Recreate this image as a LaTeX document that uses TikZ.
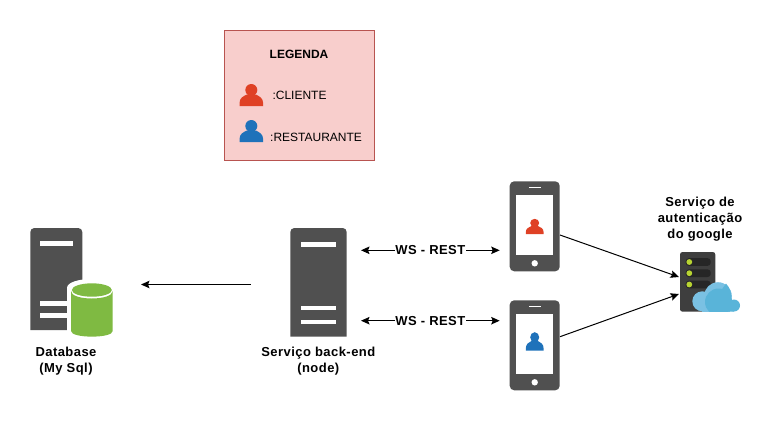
\documentclass[tikz,border=0pt]{standalone}
\usepackage{fontspec}
\setmainfont{Liberation Sans}
\usetikzlibrary{arrows.meta}
\definecolor{srv}{HTML}{505050}
\definecolor{redp}{HTML}{DF4125}
\definecolor{bluep}{HTML}{1F72BA}
\definecolor{green1}{HTML}{7FBA42}
\definecolor{lgfill}{HTML}{F8CECC}
\definecolor{lgline}{HTML}{B85450}
\definecolor{authbody}{HTML}{3E3E3E}
\definecolor{authslot}{HTML}{262626}
\definecolor{authdot}{HTML}{B8D432}
\definecolor{cla}{HTML}{7AC1E3}
\definecolor{clb}{HTML}{59B4D9}
\newcommand{\boldlbl}{\fontsize{13}{16}\selectfont\bfseries\addfontfeature{LetterSpace=3.5}}
\tikzset{
  x=1pt,y=-1pt,
  lbl/.style={font=\boldlbl,align=center,inner sep=0pt,text=black},
  wire/.style={draw=black,line width=1pt,-{Stealth[length=8.5pt,width=7.5pt,inset=1.5pt]}},
  wiretwo/.style={draw=black,line width=1pt,{Stealth[length=8.5pt,width=7.5pt,inset=1.5pt]}-{Stealth[length=8.5pt,width=7.5pt,inset=1.5pt]}},
  bar/.style={fill=white,draw=none},
  hit/.style={inner sep=0pt,draw=none},
  legtxt/.style={font=\fontsize{12}{14}\selectfont,inner sep=0pt,text=black},
  person/.pic={
    \fill[pic actions] (0,-16) circle[radius=6pt];
    \fill[pic actions] (-11.8,0) -- (-11.8,-3) .. controls (-11.8,-8) and (-8,-9.8) .. (-4.5,-11.5)
      -- (4.5,-11.5) .. controls (8,-9.8) and (11.8,-8) .. (11.8,-3) -- (11.8,0) -- cycle;
  },
  phoneicon/.pic={
    \fill[srv,rounded corners=4.5pt] (-25,-45) rectangle (25,45);
    \fill[white] (-18.4,-31) rectangle (18.6,29);
    \fill[white] (-6,-39.6) rectangle (6.4,-38.6);
    \fill[white] (0,37) circle[radius=3.2pt];
  }
}
\begin{document}
\begin{tikzpicture}
\useasboundingbox (0,0) rectangle (773,421);
% legend
\node[draw=lgline,fill=lgfill,line width=0.9pt,minimum width=150pt,minimum height=130pt,inner sep=0pt] (legend) at (299.5,95) {};
\node[font=\fontsize{12}{14}\selectfont\bfseries,inner sep=0pt] (legtitle) at (299,54) {LEGENDA};
\pic[fill=redp] at (251.3,106) {person};
\pic[fill=bluep] at (251.3,142) {person};
\node[legtxt,anchor=west] (legc) at (272.3,95.5) {:CLIENTE};
\node[legtxt,anchor=west] (legr) at (270,137.5) {:RESTAURANTE};
% database server
\fill[srv] (30.3,330) -- (30.3,232) arc[start angle=180,end angle=90,radius=4pt] -- (78.3,228) arc[start angle=90,end angle=0,radius=4pt] -- (82.3,330) -- cycle;
\fill[bar] (40.3,241) rectangle (72.7,245.7);
\fill[bar] (40.3,300.7) rectangle (72.7,305.5);
\fill[bar] (40.3,313) rectangle (72.7,318);
% cylinder
\fill[white] (67,288) -- (67,332) .. controls (67,338) and (117,338) .. (117,332) -- (117,288) .. controls (117,276) and (67,276) .. (67,288) -- cycle;
\fill[green1] (71,291) -- (71,331) .. controls (71,338.5) and (112.7,338.5) .. (112.7,331) -- (112.7,291) .. controls (112.7,301) and (71,301) .. (71,291) -- cycle;
\fill[green1] (91.85,290) ellipse[x radius=20pt,y radius=6.7pt];
\node[hit,minimum width=83pt,minimum height=109pt] (db) at (71.5,282.5) {};
\node[lbl] (dblabel) at (66,361.5) {Database\\(My Sql)};
% backend server
\fill[srv] (290.3,336.7) -- (290.3,232) arc[start angle=180,end angle=90,radius=4pt] -- (342.7,228) arc[start angle=90,end angle=0,radius=4pt] -- (346.7,336.7) -- cycle;
\fill[bar] (301.3,242) rectangle (336,246.7);
\fill[bar] (301.3,305.7) rectangle (336,310.3);
\fill[bar] (301.3,319.7) rectangle (336,324.3);
\node[hit,minimum width=56.4pt,minimum height=108.7pt] (back) at (318.5,282.35) {};
\node[lbl] (backlabel) at (318.3,361.5) {Serviço back-end\\(node)};
% phones
\pic at (534.7,226.3) {phoneicon};
\pic at (534.7,345.3) {phoneicon};
\pic[fill=redp,xscale=0.75,yscale=0.69] at (534.7,234) {person};
\pic[fill=bluep,xscale=0.75,yscale=0.84] at (534.7,350.7) {person};
\node[hit,minimum width=50pt,minimum height=90pt] (phoneA) at (534.7,226.3) {};
\node[hit,minimum width=50pt,minimum height=90pt] (phoneB) at (534.7,345.3) {};
% auth
\fill[authbody,rounded corners=2.5pt] (680,252) rectangle (715.3,311.7);
\foreach \yy in {262,273.2,284.5}{
  \fill[authslot,rounded corners=3pt] (685.7,\yy-3.8) rectangle (710.7,\yy+3.8);
  \fill[authdot] (689.3,\yy) circle[radius=2.9pt];
}
% cloud
\begin{scope}
\clip (685,270) rectangle (745,311.5);
\fill[cla] (702.3,301.3) circle[radius=10pt];
\fill[cla] (718,296) circle[radius=13.8pt];
\fill[cla] (702,301) rectangle (730,311.5);
\fill[clb] (734,305.5) circle[radius=6pt];
\fill[clb] (718.5,302) circle[radius=13.5pt];
\fill[clb] (711,305) -- (726,283.5) .. controls (730,288) and (731.5,293) .. (731.5,299) -- (734,311.5) -- (711,311.5) -- cycle;
\end{scope}
\node[hit,minimum width=60pt,minimum height=60pt] (auth) at (710,282) {};
\node[lbl] (authlabel) at (700,219.5) {Serviço de\\autenticação\\do google};
% connectors
\coordinate (dbin) at (141,284.5);
\coordinate (backout) at (250.5,284.5);
\draw[wire] (backout) -- (dbin);
\coordinate (bA) at (361,250.3);
\coordinate (pA) at (499.7,250.3);
\coordinate (bB) at (361,320.7);
\coordinate (pB) at (499.7,320.7);
\draw[wiretwo] (bA) -- node[fill=white,inner sep=0.5pt,font=\boldlbl,pos=0.5] (wsA) {WS - REST} (pA);
\draw[wiretwo] (bB) -- node[fill=white,inner sep=0.5pt,font=\boldlbl,pos=0.5] (wsB) {WS - REST} (pB);
\coordinate (pAout) at (560,235);
\coordinate (pBout) at (560,336.7);
\coordinate (authA) at (679,277);
\coordinate (authB) at (679,294);
\draw[wire] (pAout) -- (authA);
\draw[wire] (pBout) -- (authB);
\end{tikzpicture}
\end{document}
